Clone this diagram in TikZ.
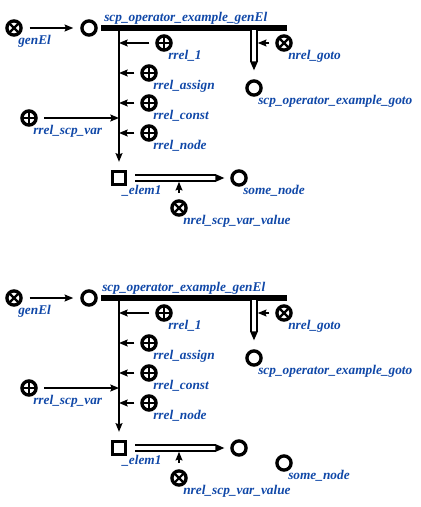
\documentclass[tikz,border=0pt]{standalone}
\usepackage{fontspec}
\setmainfont{Liberation Serif}
\usetikzlibrary{arrows.meta,calc}
\definecolor{lblue}{RGB}{16,72,168}
\tikzset{
  nd/.style={circle, draw, line width=2.5pt, minimum size=10.6pt, inner sep=0pt, fill=white},
  onode/.style={nd},
  xnode/.style={nd, path picture={
     \draw[line width=1.6pt] ($(path picture bounding box.center)+(45:6pt)$) -- ($(path picture bounding box.center)+(225:6pt)$);
     \draw[line width=1.6pt] ($(path picture bounding box.center)+(135:6pt)$) -- ($(path picture bounding box.center)+(315:6pt)$);}},
  pnode/.style={nd, path picture={
     \draw[line width=1.6pt] ($(path picture bounding box.center)+(0:6pt)$) -- ($(path picture bounding box.center)+(180:6pt)$);
     \draw[line width=1.6pt] ($(path picture bounding box.center)+(90:6pt)$) -- ($(path picture bounding box.center)+(270:6pt)$);}},
  sqnode/.style={rectangle, draw, line width=2.7pt, minimum size=9.6pt, inner sep=0pt, fill=white},
  lbl/.style={text=lblue, font=\bfseries\itshape\fontsize{10}{12}\selectfont, inner sep=0pt, anchor=base west},
  arr/.style={line width=1.1pt, -{Stealth[length=6.5pt,width=5.2pt,inset=1pt]}},
  pipe/.style={line width=1.2pt, double=white, double distance=3.2pt},
  barline/.style={line width=3.9pt},
}
% #1 prefix, #2 x of main label
\newcommand\scpdiagram[2]{%
  \node[xnode] (#1gen) at (14,28) {};
  \node[lbl] at ($(#1gen)+(4,16)$) {genEl};
  \node[onode] (#1op) at (89,28) {};
  \node[lbl] at (#2,21) {scp\_operator\_example\_genEl};
  \draw[arr, shorten <=7pt*0.75, shorten >=7pt*0.75] (#1gen) -- (#1op);
  \coordinate (#1bs) at (101,28);
  \coordinate (#1be) at (287,28);
  \draw[barline] (#1bs) -- (#1be);
  \coordinate (#1vt) at (119,28);
  \node[sqnode] (#1sq) at (119,178) {};
  \node[lbl] at ($(#1sq)+(3,16)$) {\_elem1};
  \draw[arr] (#1vt) -- ($(#1sq.north)+(0,-8)$);
  % role nodes
  \node[pnode] (#1r1) at (164,43) {};
  \node[lbl] at ($(#1r1)+(4,16)$) {rrel\_1};
  \node[pnode] (#1ra) at (149,73) {};
  \node[lbl] at ($(#1ra)+(4,16)$) {rrel\_assign};
  \node[pnode] (#1rc) at (149,103) {};
  \node[lbl] at ($(#1rc)+(4,16)$) {rrel\_const};
  \node[pnode] (#1rn) at (149,133) {};
  \node[lbl] at ($(#1rn)+(4,16)$) {rrel\_node};
  \node[pnode] (#1rv) at (29,118) {};
  \node[lbl] at ($(#1rv)+(4,16)$) {rrel\_scp\_var};
  \foreach \r in {r1,ra,rc,rn} {\draw[arr, shorten <=4.5pt] (#1\r) -- (#1\r -| #1vt);}
  \draw[arr, shorten <=5pt] (#1rv) -- (#1rv -| #1vt);
  % goto
  \node[onode] (#1gt) at (254,88) {};
  \node[lbl] at ($(#1gt)+(4,16)$) {scp\_operator\_example\_goto};
  \coordinate (#1gs) at (254,30);
  \coordinate (#1gtip) at ($(#1gt.north)+(0,-9)$);
  \draw[pipe] (#1gs) -- ($(#1gtip)+(0,-8)$);
  \fill ($(#1gtip)+(-4,-9)$) -- (#1gtip) -- ($(#1gtip)+(4,-9)$) -- cycle;
  \node[xnode] (#1ng) at (284,43) {};
  \node[lbl] at ($(#1ng)+(4,16)$) {nrel\_goto};
  \draw[arr, shorten <=4.5pt] (#1ng) -- ($(#1gs |- #1ng)+(3.8,0)$);
  % value pipe
  \node[onode] (#1tg) at (239,178) {};
  \coordinate (#1ps) at ($(#1sq.east)+(8,0)$);
  \coordinate (#1ptip) at ($(#1tg.west)+(-6,0)$);
  \draw[pipe] (#1ps) -- ($(#1ptip)+(-8,0)$);
  \fill ($(#1ptip)+(-9,-4)$) -- (#1ptip) -- ($(#1ptip)+(-9,4)$) -- cycle;
  \node[xnode] (#1nv) at (179,208) {};
  \node[lbl] at ($(#1nv)+(4,16)$) {nrel\_scp\_var\_value};
  \draw[arr, shorten <=5pt] (#1nv) -- ($(#1ps -| #1nv)+(0,3.8)$);
}
\begin{document}
\begin{tikzpicture}[x=0.75pt, y=-0.75pt]
\useasboundingbox (0,0) rectangle (421,507);
\scpdiagram{a}{104}
\node[lbl] at ($(atg)+(4,16)$) {some\_node};
\begin{scope}[shift={(0,270)}]
\scpdiagram{b}{102}
\node[onode] (bsn) at (284,193) {};
\node[lbl] at ($(bsn)+(4,16)$) {some\_node};
\end{scope}
\end{tikzpicture}
\end{document}
